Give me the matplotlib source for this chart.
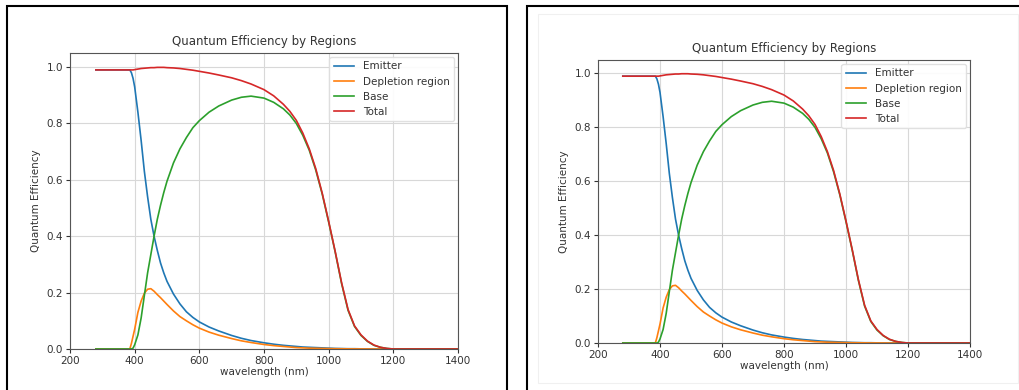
import matplotlib.pyplot as plt
from matplotlib.patches import Rectangle

# wavelength grid (nm) and quantum efficiency
wavelength = [280, 380, 385, 390, 395, 400, 410, 420, 430, 440, 450, 460, 470, 480,
              490, 500, 520, 540, 560, 580, 600, 630, 660, 700, 730, 760, 800, 830,
              860, 880, 900, 920, 940, 960, 980, 1000, 1020, 1040, 1060, 1080, 1100,
              1120, 1140, 1160, 1180, 1200, 1300, 1400]

emitter = [0.99, 0.99, 0.99, 0.98, 0.96, 0.93, 0.84, 0.74, 0.63, 0.54, 0.46, 0.40,
           0.35, 0.305, 0.27, 0.24, 0.195, 0.16, 0.132, 0.112, 0.096, 0.078, 0.064,
           0.048, 0.038, 0.03, 0.022, 0.017, 0.013, 0.011, 0.009, 0.007, 0.006, 0.005,
           0.004, 0.003, 0.002, 0.0015, 0.001, 0.001, 0.0005, 0.0003, 0.0002, 0.0001,
           0.0, 0.0, 0.0, 0.0]

depletion = [0.0, 0.0, 0.0, 0.02, 0.045, 0.07, 0.13, 0.17, 0.198, 0.212, 0.214, 0.205,
             0.193, 0.182, 0.17, 0.158, 0.135, 0.115, 0.10, 0.086, 0.074, 0.06, 0.049,
             0.037, 0.029, 0.023, 0.016, 0.012, 0.009, 0.007, 0.005, 0.004, 0.003,
             0.0025, 0.002, 0.0015, 0.001, 0.0008, 0.0005, 0.0003, 0.0002, 0.0001,
             0.0, 0.0, 0.0, 0.0, 0.0, 0.0]

base = [0.0, 0.0, 0.0, 0.0, 0.003, 0.015, 0.05, 0.11, 0.19, 0.27, 0.335, 0.40, 0.46,
        0.51, 0.555, 0.595, 0.66, 0.71, 0.75, 0.785, 0.81, 0.84, 0.862, 0.883, 0.893,
        0.897, 0.89, 0.875, 0.852, 0.83, 0.80, 0.758, 0.705, 0.635, 0.55, 0.45,
        0.345, 0.232, 0.137, 0.08, 0.048, 0.027, 0.013, 0.006, 0.002, 0.0, 0.0, 0.0]

total = [0.99, 0.99, 0.99, 0.99, 0.99, 0.991, 0.993, 0.995, 0.996, 0.997, 0.998, 0.998,
         0.999, 0.999, 0.999, 0.998, 0.997, 0.995, 0.992, 0.989, 0.985, 0.979, 0.972,
         0.962, 0.952, 0.94, 0.92, 0.898, 0.868, 0.843, 0.811, 0.766, 0.71, 0.64,
         0.553, 0.453, 0.347, 0.235, 0.14, 0.082, 0.05, 0.028, 0.014, 0.006, 0.002,
         0.0, 0.0, 0.0]

series = [("Emitter", emitter), ("Depletion region", depletion),
          ("Base", base), ("Total", total)]
colors = ["#1f77b4", "#ff7f0e", "#2ca02c", "#d62728"]

W, H = 1019, 390
fig = plt.figure(figsize=(W / 100, H / 100), dpi=100)

# black frames around the two notebook outputs
fig.patches.append(Rectangle((7 / W, -0.05), 500 / W, 1.05 - 6 / H, transform=fig.transFigure,
                             fill=False, edgecolor="black", linewidth=1.5))
fig.patches.append(Rectangle((527 / W, -0.05), 520 / W, 1.05 - 6 / H, transform=fig.transFigure,
                             fill=False, edgecolor="black", linewidth=1.5))
fig.patches.append(Rectangle((538 / W, 7 / H), 480 / W, (383 - 14) / H, transform=fig.transFigure,
                             fill=False, edgecolor="#f0f0f0", linewidth=0.8))


def draw(ax):
    for (name, vals), c in zip(series, colors):
        ax.plot(wavelength, vals, color=c, label=name, linewidth=1.2)
    ax.set_xlim(200, 1400)
    ax.set_ylim(0, 1.05)
    ax.set_xticks([200, 400, 600, 800, 1000, 1200, 1400])
    ax.set_yticks([0.0, 0.2, 0.4, 0.6, 0.8, 1.0])
    ax.grid(True, color="#d8d8d8", linewidth=0.8)
    ax.set_axisbelow(True)
    for s in ax.spines.values():
        s.set_color("#555555")
    ax.tick_params(labelsize=7.5, colors="#333333", length=3, pad=2)
    ax.set_title("Quantum Efficiency by Regions", fontsize=8.5, color="#333333", pad=6)
    ax.set_xlabel("wavelength (nm)", fontsize=7.5, color="#333333", labelpad=1)
    ax.set_ylabel("Quantum Efficiency", fontsize=7.5, color="#333333")
    leg = ax.legend(loc="upper right", fontsize=7.5, framealpha=0.9, borderaxespad=0.4)
    leg.get_frame().set_edgecolor("#dddddd")
    for t in leg.get_texts():
        t.set_color("#333333")


ax1 = fig.add_axes([70 / W, 41 / H, 388 / W, 296 / H])
draw(ax1)
ax2 = fig.add_axes([598 / W, 47 / H, 372 / W, 283 / H])
draw(ax2)

fig.savefig("out.png", dpi=100)
